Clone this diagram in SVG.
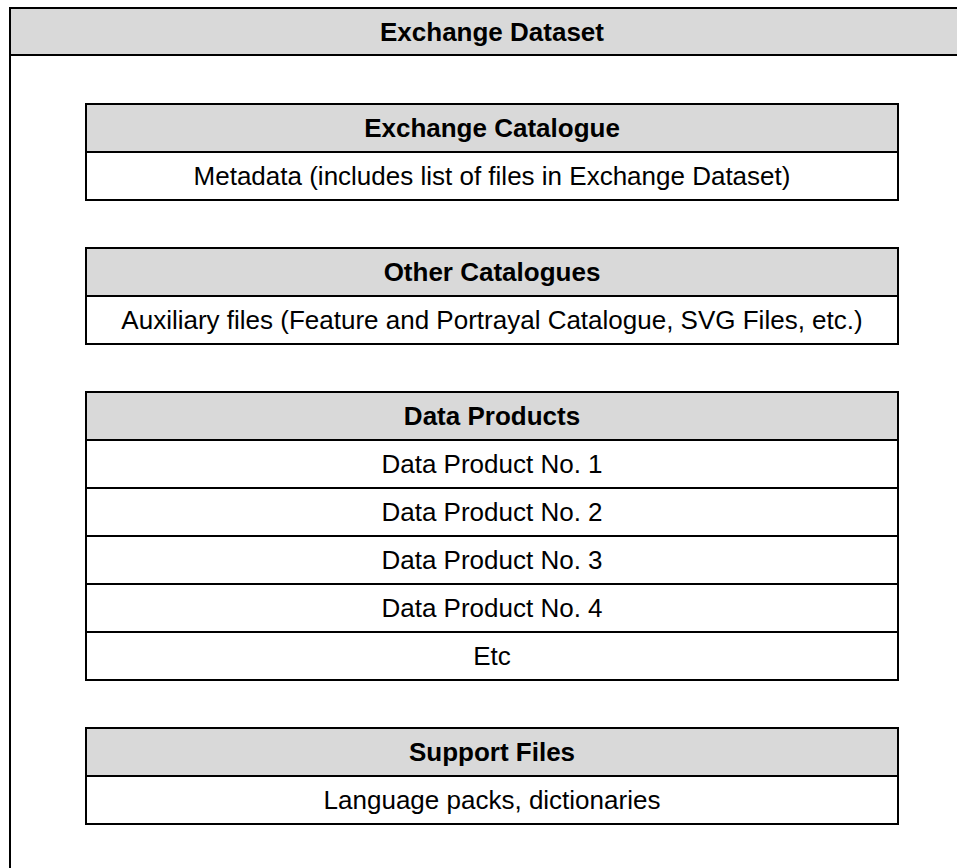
<svg xmlns="http://www.w3.org/2000/svg" width="957" height="868" viewBox="0 0 957 868">
<style>
.frame{fill:#ffffff;stroke:#000;stroke-width:2}
.head{fill:#d9d9d9;stroke:#000;stroke-width:2}
.row{fill:#ffffff;stroke:#000;stroke-width:2}
.t{font-family:"Liberation Sans",Arial,sans-serif;font-size:26px;fill:#000;text-anchor:middle}
.b{font-weight:bold}
</style>
<rect x="0" y="0" width="957" height="868" fill="#ffffff"/>
<g id="exchange-dataset">
<rect class="frame" x="10" y="8" width="970" height="880"/>
<rect class="head" x="10" y="8" width="970" height="47"/>
<text class="t b" x="492" y="41">Exchange Dataset</text>
</g>
<g id="exchange-catalogue">
<rect class="head" x="86" y="104" width="812" height="48"/>
<rect class="row" x="86" y="152" width="812" height="48"/>
<text class="t b" x="492" y="137">Exchange Catalogue</text>
<text class="t" x="492" y="185">Metadata (includes list of files in Exchange Dataset)</text>
</g>
<g id="other-catalogues">
<rect class="head" x="86" y="248" width="812" height="48"/>
<rect class="row" x="86" y="296" width="812" height="48"/>
<text class="t b" x="492" y="281">Other Catalogues</text>
<text class="t" x="492" y="329">Auxiliary files (Feature and Portrayal Catalogue, SVG Files, etc.)</text>
</g>
<g id="data-products">
<rect class="head" x="86" y="392" width="812" height="48"/>
<rect class="row" x="86" y="440" width="812" height="48"/>
<rect class="row" x="86" y="488" width="812" height="48"/>
<rect class="row" x="86" y="536" width="812" height="48"/>
<rect class="row" x="86" y="584" width="812" height="48"/>
<rect class="row" x="86" y="632" width="812" height="48"/>
<text class="t b" x="492" y="425">Data Products</text>
<text class="t" x="492" y="473">Data Product No. 1</text>
<text class="t" x="492" y="521">Data Product No. 2</text>
<text class="t" x="492" y="569">Data Product No. 3</text>
<text class="t" x="492" y="617">Data Product No. 4</text>
<text class="t" x="492" y="665">Etc</text>
</g>
<g id="support-files">
<rect class="head" x="86" y="728" width="812" height="48"/>
<rect class="row" x="86" y="776" width="812" height="48"/>
<text class="t b" x="492" y="761">Support Files</text>
<text class="t" x="492" y="809">Language packs, dictionaries</text>
</g>
<g id="connectors"></g>
</svg>
